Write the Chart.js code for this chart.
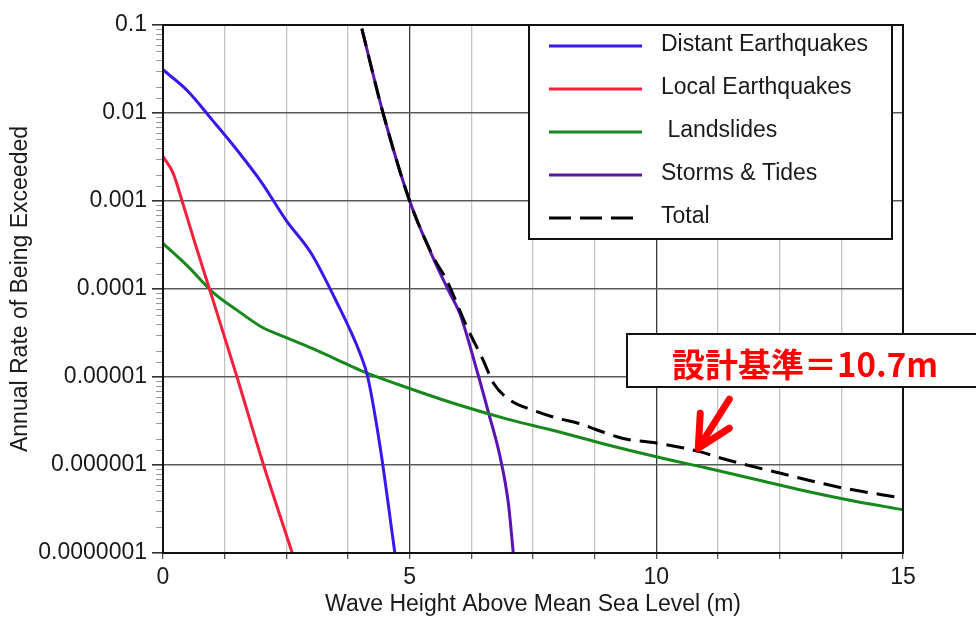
<!DOCTYPE html>
<html>
<head>
<meta charset="utf-8">
<script src="https://cdn.jsdelivr.net/npm/chart.js@4.4.1/dist/chart.umd.min.js"></script>
<style>
  html, body { margin: 0; padding: 0; background: #fff; }
  #wrap { width: 976px; height: 617px; }
</style>
</head>
<body>
<div id="wrap"><canvas id="myChart" width="976" height="617"></canvas></div>
<script>
"use strict";

// wave height (m) vs annual rate of being exceeded
var distantX = [0, 0.5, 1, 1.5, 2, 2.5, 3, 3.5, 4, 4.15, 4.4, 4.7];
var distantY = [3.1e-2, 1.78e-2, 8.3e-3, 3.8e-3, 1.62e-3, 6.0e-4, 2.57e-4, 7.5e-5, 1.82e-5, 1.0e-5, 1.62e-6, 1.0e-7];

var localX = [0, 0.2, 0.4, 0.65, 1.0, 1.5, 2.0, 2.62];
var localY = [3.2e-3, 2.1e-3, 9.5e-4, 3.3e-4, 7.9e-5, 1.0e-5, 1.17e-6, 1.0e-7];

var slideX = [0, 0.5, 1, 1.5, 2, 2.5, 3, 3.5, 4, 5, 6, 7, 8, 9, 10, 11, 12, 13, 14, 15];
var slideY = [3.3e-4, 1.82e-4, 9.3e-5, 5.75e-5, 3.7e-5, 2.8e-5, 2.14e-5, 1.6e-5, 1.19e-5, 7.4e-6,
              4.8e-6, 3.3e-6, 2.4e-6, 1.7e-6, 1.24e-6, 9.3e-7, 6.9e-7, 5.1e-7, 3.9e-7, 3.1e-7];

var stormX = [4.03, 4.46, 5.0, 5.5, 5.8, 6.02, 6.36, 6.6, 6.83, 7.0, 7.1];
var stormY = [9.1e-2, 1.0e-2, 1.0e-3, 2.1e-4, 9.3e-5, 5.2e-5, 1.2e-5, 3.9e-6, 1.26e-6, 3.7e-7, 1.0e-7];

var totalX = [4.03, 4.46, 5.0, 5.5, 5.75, 6.16, 6.49, 6.7, 7.03, 7.5, 8.0, 8.45, 8.8, 9.33, 10.0, 10.9, 11.3, 12.5, 13.7, 15.0];
var totalY = [9.1e-2, 1.0e-2, 1.0e-3, 2.2e-4, 1.26e-4, 3.7e-5, 1.55e-5, 8.5e-6, 5.5e-6, 4.2e-6, 3.4e-6, 2.95e-6,
              2.5e-6, 2.0e-6, 1.78e-6, 1.41e-6, 1.2e-6, 8.1e-7, 5.6e-7, 4.2e-7];

var seriesNames = ['Distant Earthquakes', 'Local Earthquakes', ' Landslides', 'Storms & Tides', 'Total'];
var seriesColors = ['#3a17f2', '#f5203c', '#16881c', '#5a14b4', '#000000'];

var xGrid = [0, 1.25, 2.5, 3.75, 5, 6.25, 7.5, 8.75, 10, 11.25, 12.5, 13.75, 15];
var xLabels = [0, 5, 10, 15];

var noteText = '設計基準＝10.7m';
var noteX = 10.85;       // where the arrow points
var noteY = 1.55e-6;

var FONT = "'Liberation Sans', Arial, Helvetica, sans-serif";

function toPoints(xs, ys) {
    var pts = [];
    for (var i = 0; i < xs.length; i++) {
        pts.push({x: xs[i], y: ys[i]});
    }
    return pts;
}

function isDecade(v) {
    var l = Math.log10(v);
    return Math.abs(l - Math.round(l)) < 1e-9;
}

var allX = [distantX, localX, slideX, stormX, totalX];
var allY = [distantY, localY, slideY, stormY, totalY];
var datasets = [];
for (var i = 0; i < 5; i++) {
    datasets.push({
        label: seriesNames[i],
        data: toPoints(allX[i], allY[i]),
        borderColor: seriesColors[i],
        borderWidth: 3,
        borderDash: i == 4 ? [18, 9] : [],
        pointRadius: 0,
        cubicInterpolationMode: 'monotone',
        order: i == 4 ? 0 : i + 1
    });
}

var extras = {
    id: 'extras',
    afterDatasetsDraw: function(chart) {
        var ctx = chart.ctx;
        var area = chart.chartArea;
        var ys = chart.scales.y;
        var xs = chart.scales.x;
        ctx.save();

        // minor ticks on the y axis
        ctx.strokeStyle = '#9a9a9a';
        ctx.lineWidth = 1;
        ys.ticks.forEach(function(t) {
            if (!isDecade(t.value)) {
                var py = Math.round(ys.getPixelForValue(t.value)) + 0.5;
                ctx.beginPath();
                ctx.moveTo(area.left - 7, py);
                ctx.lineTo(area.left, py);
                ctx.stroke();
            }
        });

        // plot frame
        ctx.strokeStyle = '#111';
        ctx.lineWidth = 2;
        ctx.strokeRect(area.left, area.top, area.right - area.left, area.bottom - area.top);

        // legend box
        var lx = 529, ly = area.top, lw = 363, lh = 214;
        ctx.fillStyle = '#fff';
        ctx.fillRect(lx, ly, lw, lh);
        ctx.strokeRect(lx, ly, lw, lh);
        ctx.font = '23px ' + FONT;
        ctx.textBaseline = 'middle';
        ctx.textAlign = 'left';
        chart.data.datasets.forEach(function(ds, k) {
            var rowY = ly + 21 + k * 43;
            ctx.strokeStyle = ds.borderColor;
            ctx.lineWidth = 3;
            ctx.setLineDash(k == 4 ? [22, 9] : []);
            ctx.beginPath();
            ctx.moveTo(lx + 20, rowY);
            ctx.lineTo(lx + 113, rowY);
            ctx.stroke();
            ctx.setLineDash([]);
            ctx.fillStyle = '#1a1a1a';
            ctx.fillText(ds.label, lx + 132, rowY - 1);
        });

        // design-basis callout
        var tipX = xs.getPixelForValue(noteX);
        var tipY = ys.getPixelForValue(noteY);
        ctx.fillStyle = '#fff';
        ctx.fillRect(627, 334, 360, 53);
        ctx.strokeStyle = '#111';
        ctx.lineWidth = 2;
        ctx.strokeRect(627, 334, 360, 53);
        ctx.fillStyle = '#ff0000';
        ctx.font = "bold 33px 'Noto Sans CJK JP', sans-serif";
        ctx.fillText(noteText, 672, 364);

        ctx.strokeStyle = '#ff0000';
        ctx.lineWidth = 7;
        ctx.lineCap = 'round';
        ctx.lineJoin = 'round';
        ctx.beginPath();
        ctx.moveTo(tipX + 31, tipY - 49);
        ctx.lineTo(tipX + 2, tipY - 3);
        ctx.stroke();
        ctx.beginPath();
        ctx.moveTo(tipX + 2, tipY - 35);
        ctx.lineTo(tipX, tipY);
        ctx.lineTo(tipX + 31, tipY - 20);
        ctx.stroke();
        ctx.restore();
    }
};

var ctx1 = document.getElementById('myChart').getContext('2d');

var hazardChart = new Chart(ctx1, {
    type: 'line',
    data: { datasets: datasets },
    options: {
        responsive: false,
        animation: false,
        devicePixelRatio: 1,
        layout: { padding: { left: 0, top: 25, right: 73, bottom: 0 } },
        plugins: {
            legend: { display: false },
            tooltip: { enabled: false }
        },
        scales: {
            x: {
                type: 'linear',
                min: 0,
                max: 15,
                afterBuildTicks: function(scale) {
                    scale.ticks = xGrid.map(function(v) { return {value: v}; });
                },
                afterFit: function(scale) { scale.height = 64; },
                border: { display: false },
                grid: {
                    color: function(c) {
                        return xLabels.indexOf(c.tick.value) >= 0 ? '#3a3a3a' : '#c4c4c4';
                    },
                    lineWidth: 1.3,
                    tickLength: 6,
                    tickColor: '#555'
                },
                ticks: {
                    autoSkip: false,
                    maxRotation: 0,
                    padding: 5,
                    color: '#1a1a1a',
                    font: { family: FONT, size: 23 },
                    callback: function(v) {
                        return xLabels.indexOf(v) >= 0 ? String(v) : '';
                    }
                },
                title: {
                    display: true,
                    text: 'Wave Height Above Mean Sea Level (m)',
                    color: '#1a1a1a',
                    font: { family: FONT, size: 23 },
                    padding: { top: 0, bottom: -1 }
                }
            },
            y: {
                type: 'logarithmic',
                min: 1e-7,
                max: 0.1,
                afterFit: function(scale) { scale.width = 163; },
                border: { display: false },
                grid: {
                    color: function(c) {
                        return isDecade(c.tick.value) ? '#5a5a5a' : 'transparent';
                    },
                    lineWidth: 1.6,
                    tickLength: 11,
                    tickColor: function(c) {
                        return isDecade(c.tick.value) ? '#333' : 'transparent';
                    }
                },
                ticks: {
                    autoSkip: false,
                    padding: 5,
                    color: '#1a1a1a',
                    font: { family: FONT, size: 23 },
                    callback: function(v) {
                        if (!isDecade(v)) {
                            return '';
                        }
                        return v.toFixed(-Math.round(Math.log10(v)));
                    }
                },
                title: {
                    display: true,
                    text: 'Annual Rate of Being Exceeded',
                    color: '#1a1a1a',
                    font: { family: FONT, size: 23 },
                    padding: { top: 7, bottom: 0 }
                }
            }
        }
    },
    plugins: [extras]
});
</script>
</body>
</html>
